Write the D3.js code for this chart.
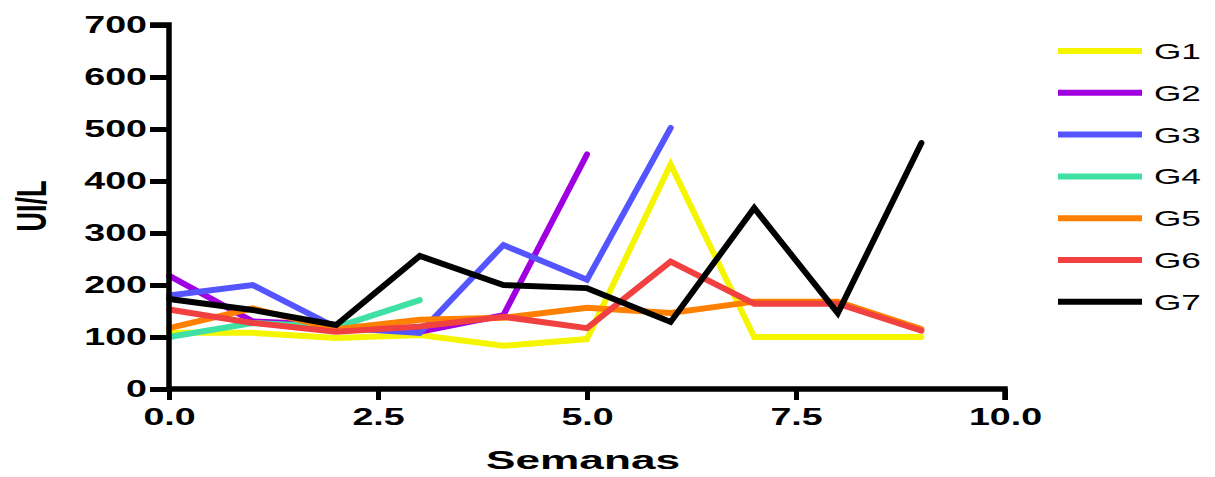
<!DOCTYPE html>
<html><head><meta charset="utf-8">
<script src="https://cdn.jsdelivr.net/npm/d3@7"></script>
<style>body{margin:0;background:#fff}svg{display:block}</style>
</head><body>
<svg id="c" width="1215" height="477"></svg>
<script>
const seriesNames = ["G1","G2","G3","G4","G5","G6","G7"];
const colors = ["#f5f500","#a000e0","#5555ff","#3ee0a4","#ff8000","#f04040","#000000"];
const G1 = [108,108,98,104,83,96,432,100,100,100];
const G2 = [218,130,123,110,142,451];
const G3 = [180,200,118,108,277,210,502];
const G4 = [100,127,119,171];
const G5 = [117,155,115,133,137,156,146,168,168,115];
const G6 = [153,127,110,120,139,117,245,164,164,112];
const G7 = [173,152,123,256,200,194,129,348,146,473];
const seriesValues = [G1,G2,G3,G4,G5,G6,G7];
const xTicks = [0,2.5,5,7.5,10];
const yTicks = [0,100,200,300,400,500,600,700];

const svg = d3.select("#c");
const x = d3.scaleLinear().domain([0,10]).range([169,1005]);
const y = d3.scaleLinear().domain([0,700]).range([389,25]);
const font = "'Liberation Sans', Arial, sans-serif";
const SX = 1.6;

const line = d3.line().x((d,i)=>x(i)).y(d=>y(d));
svg.append("g").selectAll("path").data(seriesValues).join("path")
  .attr("d", line).attr("fill","none")
  .attr("stroke",(d,i)=>colors[i]).attr("stroke-width",6)
  .attr("stroke-linejoin","miter").attr("stroke-linecap","round");

// axes
const ya = svg.append("g").attr("transform",`translate(${x(0)},0)`)
  .call(d3.axisLeft(y).tickValues(yTicks).tickSize(19).tickPadding(3).tickFormat(d3.format("d")));
const xa = svg.append("g").attr("transform",`translate(0,${y(0)})`)
  .call(d3.axisBottom(x).tickValues(xTicks).tickSize(11).tickPadding(8).tickFormat(d3.format(".1f")));
[ya,xa].forEach(a=>{
  a.select(".domain").attr("stroke","#000").attr("stroke-width",5.5);
  a.selectAll(".tick line").attr("stroke","#000").attr("stroke-width",5);
  a.selectAll("text").attr("font-family",font).attr("font-weight","bold")
    .attr("font-size",23.5).attr("fill","#000");
});
ya.selectAll(".tick text").each(function(){
  const t = d3.select(this); const xv = +t.attr("x");
  t.attr("x",0).attr("transform",`translate(${xv},0) scale(${SX},1)`);
});
xa.selectAll(".tick text").attr("transform",`scale(${SX},1)`);
ya.select(".domain").attr("d",`M-19,${y(700)}H0V${y(0)}`);
xa.select(".domain").attr("d",`M${x(0)},0H${x(10)}V11`);

svg.append("text").attr("transform","translate(46,206) rotate(-90) scale(1,1.6)")
  .attr("text-anchor","middle").attr("font-family",font).attr("font-weight","bold")
  .attr("font-size",27).text("UI/L");
svg.append("text").attr("transform",`translate(583,469) scale(1.7,1)`)
  .attr("text-anchor","middle").attr("font-family",font).attr("font-weight","bold")
  .attr("font-size",26).text("Semanas");

// legend
const lg = svg.append("g").selectAll("g").data(seriesNames).join("g")
  .attr("transform",(d,i)=>`translate(0,${51+i*41.8})`);
lg.append("line").attr("x1",1058).attr("x2",1142).attr("y1",0).attr("y2",0)
  .attr("stroke",(d,i)=>colors[i]).attr("stroke-width",6);
lg.append("text").attr("transform",`translate(1154,8) scale(${SX},1)`).attr("font-family",font)
  .attr("font-size",22).attr("fill","#000").text(d=>d);
</script>
</body></html>
